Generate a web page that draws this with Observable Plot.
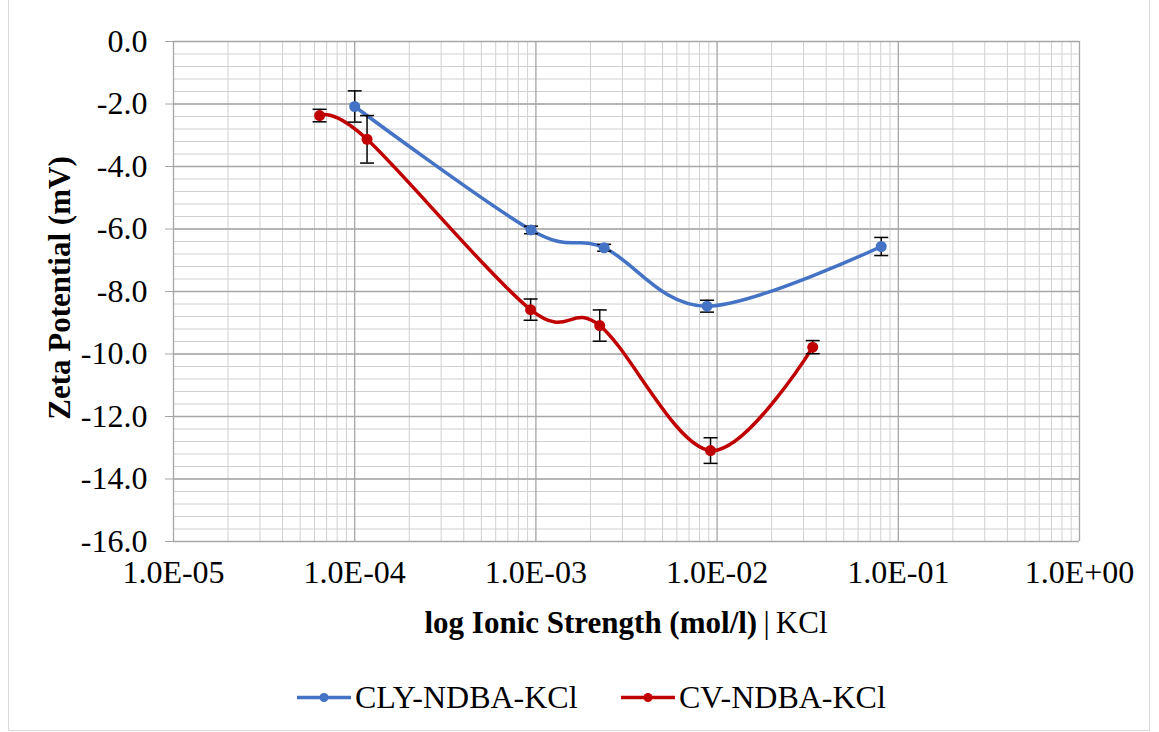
<!DOCTYPE html>
<html>
<head>
<meta charset="utf-8">
<script src="https://cdn.jsdelivr.net/npm/d3@7"></script>
<script src="https://cdn.jsdelivr.net/npm/@observablehq/plot@0.6"></script>
<style>
  body { margin: 0; background: #fff; }
  #wrap { position: relative; width: 1159px; height: 732px; font-family: "Liberation Serif", serif; color: #000; overflow: hidden; }
  #frame { position: absolute; left: 8px; top: -2px; width: 1142px; height: 733px; border: 1px solid #d9d9d9; box-sizing: border-box; }
  #chart { position: absolute; left: 0; top: 0; }
  .ytitle { position: absolute; left: 60px; top: 288px; transform: translate(-50%, -50%) rotate(-90deg); font-weight: bold; font-size: 31px; white-space: nowrap; }
  .xtitle { position: absolute; left: 626px; top: 623px; transform: translate(-50%, -50%); font-size: 31px; white-space: nowrap; }
  .leg { position: absolute; top: 697px; transform: translateY(-50%); display: flex; align-items: center; font-size: 32px; white-space: nowrap; }
  .leg svg { margin-right: 4px; }
</style>
</head>
<body>
<div id="wrap">
  <div id="frame"></div>
  <div id="chart"></div>
  <div class="ytitle">Zeta Potential (mV)</div>
  <div class="xtitle"><b>log Ionic Strength (mol/l)</b>&#8201;|&#8201;KCl</div>
  <div class="leg" id="leg1" style="left:297px"></div>
  <div class="leg" id="leg2" style="left:621px"></div>
</div>
<script>
// ---- data ----
const seriesNames = ["CLY-NDBA-KCl", "CV-NDBA-KCl"];
const seriesColors = ["#4472C4", "#C00000"];

const clyX = [1.0e-4, 9.4e-4, 2.38e-3, 8.8e-3, 8.05e-2];
const clyY = [-2.08, -6.03, -6.60, -8.47, -6.56];
const clyErr = [0.50, 0.12, 0.11, 0.19, 0.29];

const cvX = [6.4e-5, 1.17e-4, 9.35e-4, 2.25e-3, 9.2e-3, 3.37e-2];
const cvY = [-2.37, -3.13, -8.58, -9.09, -13.09, -9.78];
const cvErr = [0.20, 0.76, 0.34, 0.50, 0.41, 0.21];

const xMajorTicks = [1e-5, 1e-4, 1e-3, 1e-2, 1e-1, 1e0];
const yMajorTicks = [0, -2, -4, -6, -8, -10, -12, -14, -16];

// ---- build tables ----
const cly = clyX.map((x, i) => ({x, y: clyY[i], e: clyErr[i], s: seriesNames[0]}));
const cv = cvX.map((x, i) => ({x, y: cvY[i], e: cvErr[i], s: seriesNames[1]}));
const all = [...cly, ...cv];

const xMinor = [];
for (let k = -5; k < 0; k++) for (let m = 2; m <= 9; m++) xMinor.push(m * Math.pow(10, k));
const yMinor = d3.range(0, 41).map(i => +(-16 + i * 0.4).toFixed(2));

const fmtX = d => {
  const e = Math.round(Math.log10(d));
  return "1.0E" + (e < 0 ? "-" : "+") + String(Math.abs(e)).padStart(2, "0");
};
const fmtY = d => d.toFixed(1);

const cap = { draw(ctx, size) { const r = Math.sqrt(size / Math.PI); ctx.moveTo(-r, 0); ctx.lineTo(r, 0); } };

const colorOf = s => seriesColors[seriesNames.indexOf(s)];

const chart = Plot.plot({
  width: 1159,
  height: 650,
  marginTop: 41,
  marginBottom: 109,
  marginLeft: 173,
  marginRight: 80,
  style: { fontFamily: "Liberation Serif, serif", fontSize: "32px", background: "transparent", color: "#000" },
  x: { type: "log", domain: [1e-5, 1] },
  y: { domain: [-16, 0] },
  marks: [
    Plot.ruleX(xMinor, { stroke: "#d0d0d0", strokeWidth: 1 }),
    Plot.ruleY(yMinor, { stroke: "#d0d0d0", strokeWidth: 1 }),
    Plot.ruleX(xMajorTicks, { stroke: "#a6a6a6", strokeWidth: 1.3 }),
    Plot.ruleY(yMajorTicks, { stroke: "#a6a6a6", strokeWidth: 1.3 }),
    Plot.axisY({ ticks: yMajorTicks, tickFormat: fmtY, tickSize: 8, tickPadding: 18, stroke: "#a6a6a6", fill: "#000", label: null, fontSize: 32 }),
    Plot.axisX({ ticks: xMajorTicks, tickFormat: fmtX, tickSize: 0, tickPadding: 19, fill: "#000", label: null, fontSize: 32 }),
    Plot.line(cly, { x: "x", y: "y", stroke: seriesColors[0], strokeWidth: 3.5, curve: "cardinal" }),
    Plot.line(cv, { x: "x", y: "y", stroke: seriesColors[1], strokeWidth: 3.5, curve: "cardinal" }),
    Plot.ruleX(all, { x: "x", y1: d => d.y - d.e, y2: d => d.y + d.e, stroke: "#000", strokeWidth: 1.5 }),
    Plot.dot(all, { x: "x", y: d => d.y - d.e, symbol: cap, r: 7, stroke: "#000", strokeWidth: 1.5, fill: "none" }),
    Plot.dot(all, { x: "x", y: d => d.y + d.e, symbol: cap, r: 7, stroke: "#000", strokeWidth: 1.5, fill: "none" }),
    Plot.dot(all, { x: "x", y: "y", r: 5.5, fill: d => colorOf(d.s), stroke: "none" })
  ]
});
document.getElementById("chart").appendChild(chart);

// legend
function swatch(color) {
  return `<svg width="54" height="16"><line x1="0" y1="8" x2="54" y2="8" stroke="${color}" stroke-width="3.5" stroke-linecap="round"/><circle cx="27" cy="8" r="4.5" fill="${color}"/></svg>`;
}
document.getElementById("leg1").innerHTML = swatch(seriesColors[0]) + "<span>" + seriesNames[0] + "</span>";
document.getElementById("leg2").innerHTML = swatch(seriesColors[1]) + "<span>" + seriesNames[1] + "</span>";
</script>
</body>
</html>
